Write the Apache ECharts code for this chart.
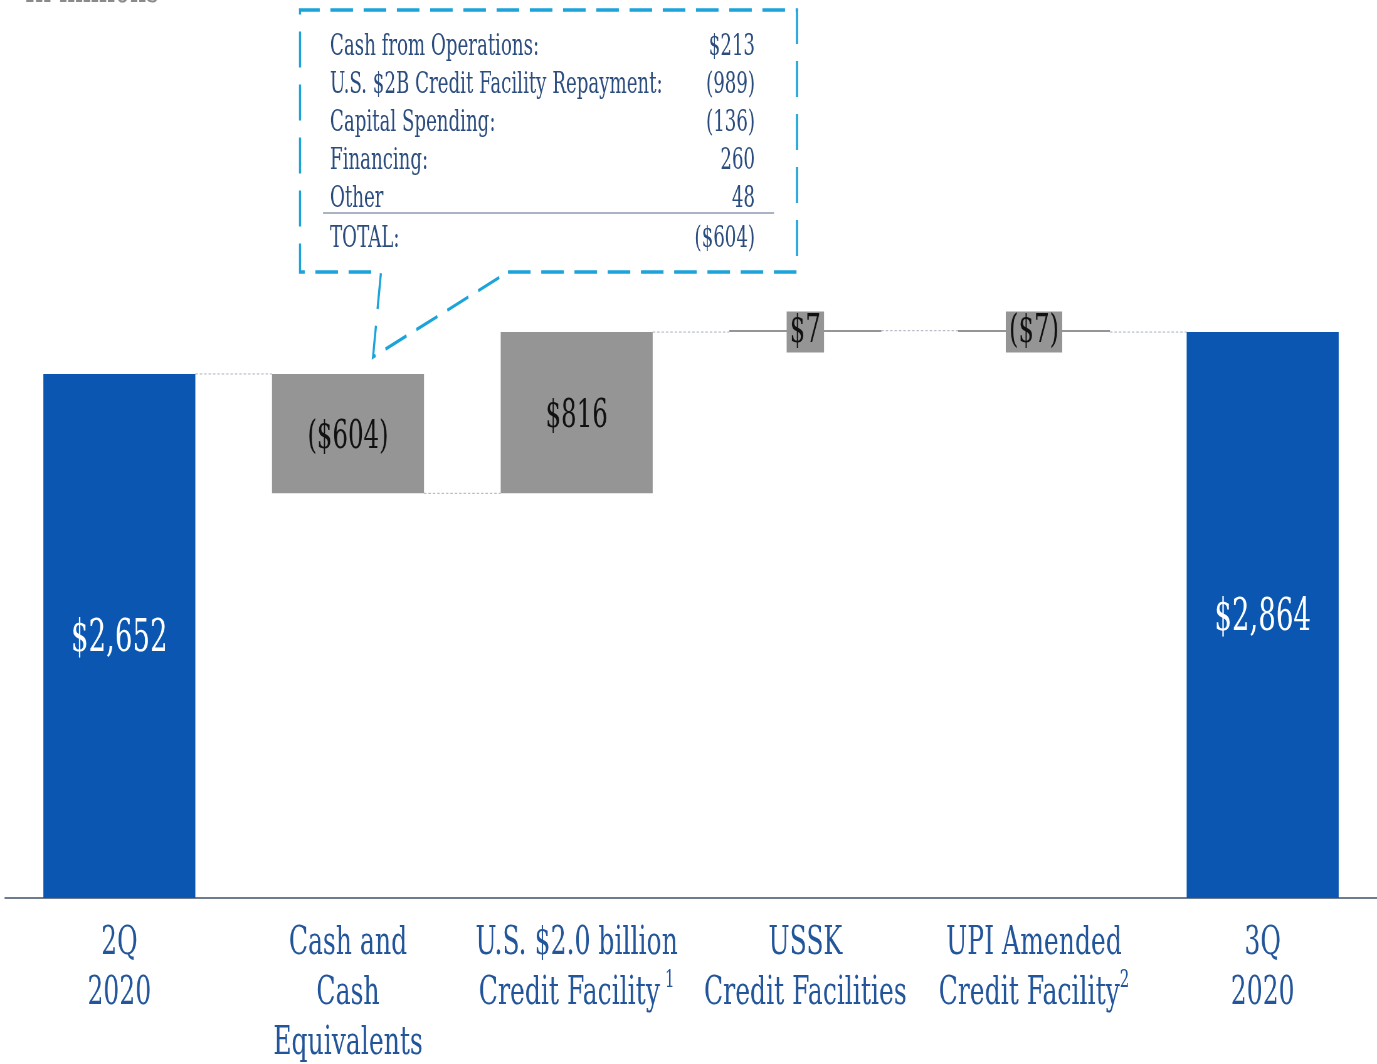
<!DOCTYPE html>
<html><head><meta charset="utf-8">
<script src="https://cdn.jsdelivr.net/npm/echarts@6/dist/echarts.min.js"></script>
<style>
html,body{margin:0;padding:0;background:#fff;overflow:hidden;width:1377px;height:1064px}
#wrap{width:1377px;height:1064px;overflow:hidden;position:relative}
#chart{width:2196px;height:1064px;transform:scaleX(0.62705);transform-origin:0 0;position:absolute;left:0;top:0}
</style></head><body>
<div id="wrap"><div id="chart"></div></div>
<script>
// ---- data ----
const categories = ['2Q\n2020', 'Cash and\nCash\nEquivalents', 'U.S. $2.0 billion\nCredit Facility{gap|}{sup|1}', 'USSK\nCredit Facilities', 'UPI Amended\nCredit Facility{sup|2}', '3Q\n2020'];
const baseValues = [0, 2048, 2048, 2864, 2864, 0];
const barValues = [2652, 604, 816, 7, 7, 2864];
const barLabels = ['$2,652', '($604)', '$816', '$7', '($7)', '$2,864'];
const barKinds = ['total', 'delta', 'delta', 'small', 'small', 'total'];
const connectorLevels = [2652, 2048, 2864, 2871, 2864];
const calloutItems = ['Cash from Operations:', 'U.S. $2B Credit Facility Repayment:', 'Capital Spending:', 'Financing:', 'Other', 'TOTAL:'];
const calloutValues = ['$213', '(989)', '(136)', '260', '48', '($604)'];
const unitNote = 'In millions';

// ---- style ----
const S = 1377 / 2196;            // horizontal squeeze of the reference
const sx = x => x / S;            // screen x -> canvas x
const FONT = '"DejaVu Serif", "Liberation Serif", serif';
const BLUE = '#0a56b1';
const GRAY = '#959595';
const AXIS_TEXT = '#22559a';
const CALLOUT_TEXT = '#2b4c7e';
const CYAN = '#1ba3da';
const BAR_W = sx(152);

const chart = echarts.init(document.getElementById('chart'));

const barData = barValues.map((v, i) => {
  const k = barKinds[i];
  const label = {
    show: true, position: 'inside', formatter: barLabels[i], fontFamily: FONT,
    fontSize: k === 'total' ? 44 : 39,
    color: k === 'total' ? '#ffffff' : '#111111',
    offset: k === 'small' ? [0, 1] : [0, 4]
  };
  if (k === 'small') {
    label.backgroundColor = GRAY;
    label.padding = [1, 5, 0, 5];
    label.lineHeight = 40;
  }
  return { value: v, itemStyle: { color: k === 'total' ? BLUE : GRAY }, label };
});

const graphics = [];
// "In millions" (cut off at the top)
graphics.push({ type: 'text', x: sx(25), y: -8, silent: true,
  style: { text: unitNote, font: '40px ' + FONT, fill: '#8a8a8a', align: 'left', textAlign: 'left', verticalAlign: 'middle', textVerticalAlign: 'middle' } });
// callout border with pointer
const pts = [[508, 272], [797, 272], [797, 10], [300, 10], [300, 272], [381, 272], [373, 357]].map(p => [sx(p[0]), p[1]]);
graphics.push({ type: 'polygon', silent: true, shape: { points: pts },
  style: { fill: 'none', stroke: CYAN, lineWidth: 3.4, lineDash: [36, 17] } });
// separator
graphics.push({ type: 'line', silent: true, shape: { x1: sx(323), y1: 213, x2: sx(774), y2: 213 },
  style: { stroke: '#8d9ab0', lineWidth: 1.5 } });
const rowY = [47, 85, 123, 161, 199, 239];
calloutItems.forEach((t, i) => {
  graphics.push({ type: 'text', x: sx(330), y: rowY[i], silent: true,
    style: { text: t, font: '29px ' + FONT, fill: CALLOUT_TEXT, align: 'left', textAlign: 'left', verticalAlign: 'middle', textVerticalAlign: 'middle' } });
  graphics.push({ type: 'text', x: sx(755), y: rowY[i], silent: true,
    style: { text: calloutValues[i], font: '29px ' + FONT, fill: CALLOUT_TEXT, align: 'right', textAlign: 'right', verticalAlign: 'middle', textVerticalAlign: 'middle' } });
});

chart.setOption({
  animation: false,
  backgroundColor: '#ffffff',
  grid: { left: sx(5), right: 0, top: 107.6, bottom: 166, containLabel: false, outerBoundsMode: 'none' },
  xAxis: {
    type: 'category', data: categories,
    axisTick: { show: false },
    axisLine: { show: true, lineStyle: { color: '#6f7c8f', width: 2 } },
    axisLabel: {
      interval: 0, fontFamily: FONT, fontSize: 40, lineHeight: 50, color: AXIS_TEXT, margin: 21,
      rich: {
        sup: { fontFamily: FONT, fontSize: 24, lineHeight: 24, verticalAlign: 'top', color: AXIS_TEXT },
        gap: { width: 8 }
      }
    }
  },
  yAxis: { type: 'value', min: 0, max: 4000, show: false, splitLine: { show: false } },
  series: [
    { type: 'bar', stack: 'w', data: baseValues, barWidth: BAR_W, itemStyle: { color: 'transparent' }, silent: true },
    { type: 'bar', stack: 'w', data: barData, barWidth: BAR_W, barMinHeight: 2 },
    {
      type: 'custom', silent: true, z: 1,
      data: connectorLevels.map((v, i) => [i, v]),
      renderItem(params, api) {
        const i = api.value(0), v = api.value(1);
        const p1 = api.coord([i, v]);
        const p2 = api.coord([i + 1, v]);
        return { type: 'line', shape: { x1: p1[0] + BAR_W / 2, y1: p1[1], x2: p2[0] - BAR_W / 2, y2: p2[1] },
          style: { stroke: '#a9b0bd', lineWidth: 1, lineDash: [4, 3] } };
      }
    }
  ],
  graphic: graphics
});
</script>
</body></html>
